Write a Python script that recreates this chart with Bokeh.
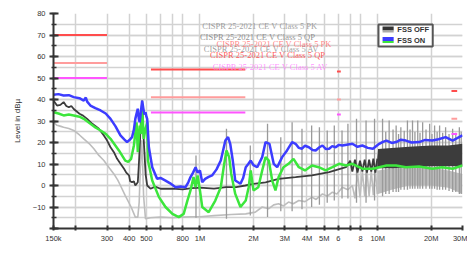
from bokeh.plotting import figure
from bokeh.models import Range1d, FixedTicker, SingleIntervalTicker, Label, BoxAnnotation
from bokeh.embed import file_html
from bokeh.resources import INLINE

# ---------------- data (frequency in MHz, level in dBuV) ----------------
on_pk_f = [0.150, 0.160, 0.171, 0.183, 0.195, 0.210, 0.222, 0.228, 0.232, 0.242, 0.258, 0.276,
           0.295, 0.314, 0.335, 0.357, 0.375, 0.389, 0.400, 0.415, 0.425, 0.433, 0.440, 0.447,
           0.453, 0.458, 0.465, 0.473, 0.480, 0.487, 0.494, 0.500, 0.505, 0.516, 0.539, 0.574,
           0.600, 0.640, 0.680, 0.729, 0.780, 0.830, 0.860, 0.885, 0.915, 0.945, 0.970, 1.00,
           1.03, 1.07, 1.12, 1.17, 1.24, 1.31, 1.39, 1.44, 1.48, 1.53, 1.58, 1.69, 1.75, 1.81,
           1.87, 1.93, 2.00, 2.10, 2.24, 2.34, 2.46, 2.60, 2.72, 2.90, 3.09, 3.30, 3.45, 3.60,
           3.75, 3.90, 4.10, 4.30, 4.48, 4.70, 4.89, 5.10, 5.33, 5.55, 5.80, 6.05, 6.33, 6.70,
           7.20, 7.70, 8.20, 8.80, 9.40, 10.2, 10.7, 11.2, 12.0, 12.7, 13.5, 14.4, 15.5, 17.1,
           18.5, 20.3, 22.0, 24.1, 26.4, 28.0, 30.0]
on_pk_db = [42.2, 42.5, 41.9, 42.0, 41.1, 40.6, 39.5, 40.9, 39.0, 37.2, 36.0, 34.9,
            33.5, 31.0, 27.5, 23.3, 21.5, 20.2, 21.0, 22.5, 26.0, 31.0, 33.5, 35.7,
            31.0, 29.4, 34.0, 39.5, 36.0, 33.0, 34.1, 32.0, 31.0, 17.8, 8.5, 3.1,
            3.5, 2.3, 1.0, -0.8, -0.5, -0.8, 1.5, 3.9, 6.0, 8.5, 6.0, 7.0,
            1.5, 3.1, 4.0, 4.7, 7.5, 11.6, 20.9, 22.5, 19.4, 11.6, 2.3, 0.8, 3.5, 8.5,
            10.0, 11.6, 9.5, 8.5, 13.2, 20.2, 19.4, 10.1, 8.5, 13.2, 16.3, 20.2, 19.4, 17.5,
            17.1, 18.5, 17.8, 16.5, 16.3, 17.8, 18.6, 17.0, 17.1, 18.3, 17.8, 18.9, 18.6, 19.0,
            19.4, 18.0, 18.6, 17.5, 17.1, 19.4, 20.3, 20.9, 19.8, 20.2, 21.3, 20.9, 20.0, 20.2,
            21.2, 20.9, 21.5, 22.5, 20.9, 22.0, 23.3]

on_av_f = [0.150, 0.160, 0.171, 0.183, 0.195, 0.210, 0.222, 0.242, 0.258, 0.276, 0.295, 0.314,
           0.350, 0.380, 0.395, 0.410, 0.425, 0.440, 0.447, 0.458, 0.465, 0.473, 0.483, 0.493,
           0.505, 0.510, 0.539, 0.588, 0.640, 0.700, 0.760, 0.810, 0.850, 0.885, 0.920, 0.945,
           0.970, 1.00, 1.03, 1.12, 1.22, 1.31, 1.36, 1.41, 1.46, 1.50, 1.58, 1.69, 1.81, 1.88,
           1.93, 2.00, 2.13, 2.24, 2.34, 2.44, 2.55, 2.66, 2.77, 2.95, 3.15, 3.36, 3.60, 3.90,
           4.27, 4.66, 5.10, 5.56, 6.07, 6.63, 7.20, 8.20, 9.40, 10.2, 11.2, 12.7, 14.4, 17.1,
           20.3, 23.0, 26.4, 30.0]
on_av_db = [34.1, 33.5, 32.6, 33.0, 32.6, 32.0, 31.0, 28.7, 27.0, 25.6, 24.0, 21.7,
            16.3, 11.6, 11.0, 12.4, 18.6, 29.4, 15.5, 27.9, 24.0, 35.7, 21.7, 26.0,
            29.4, 11.6, 2.3, -5.4, -10.0, -13.2, -14.7, -13.2, -7.0, -2.3, 3.9, -0.8,
            4.7, -2.3, -10.0, -12.4, -7.0, -0.8, 8.5, 16.3, 13.2, 5.4, -3.9, -10.0, -7.0, -0.8,
            7.0, -2.3, -0.8, 7.0, 13.2, 11.6, 2.3, -2.3, 3.9, 8.5, 10.1, 12.4, 8.5, 7.0,
            9.3, 8.5, 7.0, 8.5, 10.1, 9.3, 10.1, 7.8, 7.8, 8.5, 9.3, 9.3, 8.5, 8.8,
            7.8, 8.5, 7.8, 9.3]

off_pk_f = [0.150, 0.157, 0.164, 0.171, 0.177, 0.183, 0.189, 0.195, 0.210, 0.220, 0.232, 0.248,
            0.260, 0.270, 0.288, 0.300, 0.314, 0.328, 0.342, 0.355, 0.374, 0.385, 0.399, 0.405,
            0.415, 0.425, 0.433, 0.447, 0.452, 0.458, 0.465, 0.473, 0.480, 0.487, 0.495, 0.505,
            0.527, 0.560, 0.600, 0.700, 0.800, 0.900, 1.00, 1.20, 1.40, 1.60, 1.80, 2.00,
            2.34, 2.77, 3.45, 4.27, 5.33, 6.63, 7.00, 7.20, 7.45, 7.70, 7.95, 8.20, 8.45, 8.70,
            8.95, 9.20, 9.45, 9.70, 9.95]
off_pk_db = [39.5, 37.2, 37.5, 38.8, 37.0, 36.4, 37.0, 35.6, 33.4, 32.5, 31.0, 28.7,
             27.5, 26.4, 23.3, 21.0, 17.8, 15.5, 12.4, 10.5, 7.8, 6.0, 4.7, 2.0,
             1.5, 2.0, 0.0, 1.5, 8.0, 17.1, 30.0, 39.5, 25.0, 15.5, 5.0, 0.0,
             -1.5, -0.5, -1.5, -1.5, -1.8, -1.2, -1.0, -1.5, -0.8, -0.8, 0.0, 0.8,
             1.5, 3.1, 3.9, 4.7, 6.2, 8.5, 11.5, 6.5, 12.0, 6.0, 11.5, 6.5, 12.0, 6.0,
             12.0, 6.5, 12.5, 6.0, 12.5]

off_pk_band_f = [9.95, 10.05, 12.0, 15.0, 20.0, 25.0, 30.0]
off_pk_band_lo = [8.0, 8.0, 8.0, 8.5, 9.0, 9.0, 9.0]
off_pk_band_hi = [13.0, 17.0, 17.5, 18.0, 18.6, 18.6, 19.4]

off_av_f = [0.150, 0.157, 0.165, 0.171, 0.183, 0.195, 0.210, 0.222, 0.238, 0.253, 0.270, 0.288,
            0.310, 0.328, 0.345, 0.357, 0.380, 0.410, 0.433, 0.447, 0.455, 0.462, 0.470, 0.476,
            0.482, 0.494, 0.527, 0.600, 0.700, 0.800, 0.900, 1.00, 1.20, 1.50, 1.81, 2.05,
            2.24, 2.44, 2.60, 2.77, 2.95, 3.15, 3.35, 3.60, 3.90, 4.27, 4.50, 4.89, 5.20, 5.56,
            5.90, 6.33, 6.80, 7.20, 7.45, 7.70, 7.95, 8.20, 8.45, 8.70, 8.95, 9.20, 9.45, 9.70,
            9.95]
off_av_db = [29.4, 28.0, 27.5, 27.1, 26.5, 25.6, 23.5, 21.7, 19.5, 17.1, 14.0, 11.6,
             8.0, 5.4, 2.5, 0.0, -4.7, -10.0, -14.7, -14.7, -8.0, 8.0, 21.0, 10.0,
             -5.0, -15.5, -15.0, -14.7, -15.0, -14.7, -14.5, -14.5, -14.0, -13.5, -13.2, -12.4,
             -10.0, -10.8, -9.0, -8.5, -9.5, -7.7, -8.5, -7.0, -7.5, -5.4, -6.5, -3.9, -5.0, -3.1,
             -4.0, -0.8, -2.0, 0.0, -6.0, 6.0, -5.5, 6.5, -5.0, 7.0, -5.0, 7.0, -4.5, 7.0,
             -4.0]

off_av_band_f = [9.95, 10.05, 12.0, 15.0, 20.0, 25.0, 30.0]
off_av_band_lo = [-4.0, -4.0, -2.0, 0.0, 0.0, -1.0, -4.0]
off_av_band_hi = [7.0, 7.0, 8.0, 8.5, 8.5, 7.0, 5.4]

# harmonic spikes of the FSS OFF measurement
spike_f = [0.95, 1.41, 1.92, 2.40, 2.85, 3.30, 3.75, 4.25, 4.70, 5.20, 5.70, 6.30, 6.80,
           7.60, 8.60, 9.60, 10.65, 11.1, 11.6, 12.2, 12.7, 13.1, 13.5, 14.1, 14.7, 15.2,
           15.7, 16.2, 16.8, 17.3, 17.9, 18.7, 19.6, 20.2, 20.9, 21.6, 22.3, 23.2, 24.1,
           25.2, 26.4, 27.5, 28.8, 29.5]
spike_top = [14.0, 26.4, 18.6, 28.7, 22.5, 29.4, 26.4, 27.9, 27.1, 25.6, 27.9, 25.6, 28.7,
             31.0, 30.2, 31.0, 31.0, 25.0, 30.2, 26.0, 27.9, 24.0, 27.1, 25.5, 30.2, 26.0,
             30.2, 25.0, 30.2, 24.5, 29.4, 26.0, 28.7, 24.0, 27.9, 25.0, 27.9, 24.5, 27.1,
             24.0, 26.4, 24.5, 27.1, 25.0]
spike_bot = [-15.0, -15.5, -14.0, -14.7, -12.0, -12.0, -11.0, -10.0, -9.0, -8.0, -7.0, -6.0, -6.0,
             -8.0, -8.0, -7.0, -5.0, -4.0, -4.0, -3.0, -3.0, -3.0, -2.0, -2.0, -2.0, -1.5,
             -1.5, -1.5, -1.5, -1.5, -1.5, -1.5, -1.5, -1.5, -1.5, -2.0, -2.0, -2.0, -2.0,
             -2.5, -3.0, -3.0, -4.0, -4.0]

# CISPR 25-2021 CE V Class 5 limits
lim_f0 = [0.15, 0.53, 5.9, 26.0]
lim_f1 = [0.30, 1.8, 6.2, 28.0]
lim_pk = [70, 54, 53, 44]
lim_qp = [57, 41, 40, 31]
lim_av = [50, 34, 33, 24]

x_ticks = [0.15, 0.2, 0.3, 0.4, 0.5, 0.6, 0.7, 0.8, 1, 2, 3, 4, 5, 6, 7, 8, 10, 20, 30]
x_tick_labels = ["150k", "", "300", "400", "500", "", "", "800", "1M", "2M", "3M", "4M", "5M",
                 "6", "", "8", "10M", "20M", "30M"]

# ---------------- figure ----------------
p = figure(width=467, height=270, x_axis_type="log", output_backend="svg",
           toolbar_location=None, x_range=Range1d(0.15, 30), y_range=Range1d(-20, 80),
           min_border_left=53, min_border_right=5, min_border_top=13, min_border_bottom=42)
p.outline_line_color = None
p.background_fill_color = "white"
p.border_fill_color = "white"

p.xaxis.ticker = FixedTicker(ticks=x_ticks, minor_ticks=[])
p.xaxis.major_label_overrides = {t: l for t, l in zip(x_ticks, x_tick_labels)}
p.yaxis.ticker = SingleIntervalTicker(interval=10, num_minor_ticks=2)
p.yaxis.major_label_overrides = {-20: ""}

for ax in (p.xaxis[0], p.yaxis[0]):
    ax.axis_line_color = "#333333"
    ax.axis_line_width = 2
    ax.major_tick_line_color = "#333333"
    ax.major_tick_line_width = 2
    ax.minor_tick_line_color = "#333333"
    ax.minor_tick_line_width = 1.5
    ax.major_label_text_font = "Liberation Sans"
    ax.major_label_text_font_size = "7.5px"
    ax.major_label_text_color = "#333333"
    ax.axis_label_text_font = "Liberation Sans"
    ax.axis_label_text_font_size = "8px"
    ax.axis_label_text_font_style = "normal"
    ax.axis_label_text_color = "#333333"

p.xaxis.major_tick_in = 3
p.xaxis.major_tick_out = 2
p.xaxis.major_label_standoff = 3
p.yaxis.major_tick_in = 5
p.yaxis.major_tick_out = 4
p.yaxis.minor_tick_in = 3
p.yaxis.minor_tick_out = 2
p.yaxis.major_label_standoff = 4
p.yaxis.axis_label = "Level in dBµ"
p.yaxis.axis_label_standoff = 8

p.xgrid.grid_line_color = "#d2d2d2"
p.xgrid.grid_line_width = 1.5
p.ygrid.grid_line_color = "#d2d2d2"
p.ygrid.grid_line_width = 1.5
p.ygrid.minor_grid_line_color = "#d2d2d2"
p.ygrid.minor_grid_line_width = 1.5

# FSS OFF
p.varea(x=off_av_band_f, y1=off_av_band_lo, y2=off_av_band_hi, color="#bdbdbd")
p.line(off_av_f, off_av_db, color="#bdbdbd", line_width=1.6)
p.segment(x0=spike_f, y0=spike_bot, x1=spike_f, y1=spike_top, color="#9a9a9a", line_width=1.3)
p.varea(x=off_pk_band_f, y1=off_pk_band_lo, y2=off_pk_band_hi, color="#3c3c3c")
p.line(off_pk_f, off_pk_db, color="#3c3c3c", line_width=1.8)

# limit lines
p.segment(x0=lim_f0, y0=lim_pk, x1=lim_f1, y1=lim_pk, color="#ff4d4d", line_width=2)
p.segment(x0=lim_f0, y0=lim_qp, x1=lim_f1, y1=lim_qp, color="#ff9c9c", line_width=2)
p.segment(x0=lim_f0, y0=lim_av, x1=lim_f1, y1=lim_av, color="#ff55ff", line_width=2)

# FSS ON
p.line(on_av_f, on_av_db, color="#3ce63c", line_width=2.5)
p.line(on_pk_f, on_pk_db, color="#3c3cff", line_width=2.5)

# limit captions
captions = [
    (1.03, 74.4, "CISPR 25-2021 CE V Class 5 PK", "#888888", 0.8),
    (1.00, 69.3, "CISPR 25-2021 CE V Class 5 QP", "#777777", 0.8),
    (1.05, 63.7, "CISPR 25-2021 CE V Class 5 AV", "#888888", 0.8),
    (1.24, 66.0, "CISPR 25-2021 CE V Class 5 PK", "#ff7070", 0.85),
    (1.14, 60.9, "CISPR 25-2021 CE V Class 5 QP", "#ff4040", 0.85),
    (1.18, 54.9, "CISPR 25-2021 CE V Class 5 AV", "#ff80ff", 0.85),
]
for cx, cy, txt, col, al in captions:
    p.add_layout(Label(x=cx, y=cy, text=txt, text_font="Liberation Serif",
                       text_font_size="8.5px", text_color=col, text_alpha=al,
                       text_baseline="middle"))

# legend (manual, two-colour swatches)
p.add_layout(BoxAnnotation(left=10.1, right=20.4, bottom=64.7, top=74.9, fill_color="white",
                           fill_alpha=1, line_color="#555555", line_width=2, line_alpha=1))
p.add_layout(BoxAnnotation(left=10.65, right=12.3, bottom=72.1, top=74.0, fill_color="#333333",
                           fill_alpha=1, line_color=None))
p.add_layout(BoxAnnotation(left=10.65, right=12.3, bottom=71.2, top=72.1, fill_color="#aaaaaa",
                           fill_alpha=1, line_color=None))
p.add_layout(BoxAnnotation(left=10.65, right=12.3, bottom=67.2, top=69.1, fill_color="#3c3cff",
                           fill_alpha=1, line_color=None))
p.add_layout(BoxAnnotation(left=10.65, right=12.3, bottom=66.3, top=67.2, fill_color="#3ce63c",
                           fill_alpha=1, line_color=None))
p.add_layout(Label(x=12.9, y=72.6, text="FSS OFF", text_font="Liberation Sans",
                   text_font_size="7.5px", text_font_style="bold", text_color="#333333",
                   text_baseline="middle"))
p.add_layout(Label(x=12.9, y=67.4, text="FSS ON", text_font="Liberation Sans",
                   text_font_size="7.5px", text_font_style="bold", text_color="#333333",
                   text_baseline="middle"))

# x axis title (placed off-centre as in the original)
p.add_layout(Label(x=3.54, y=-31.2, text="Frequency in Hz", text_font="Liberation Sans",
                   text_font_size="8px", text_color="#333333", text_align="center",
                   text_baseline="middle"))

open("out.html", "w").write(file_html(p, INLINE))
